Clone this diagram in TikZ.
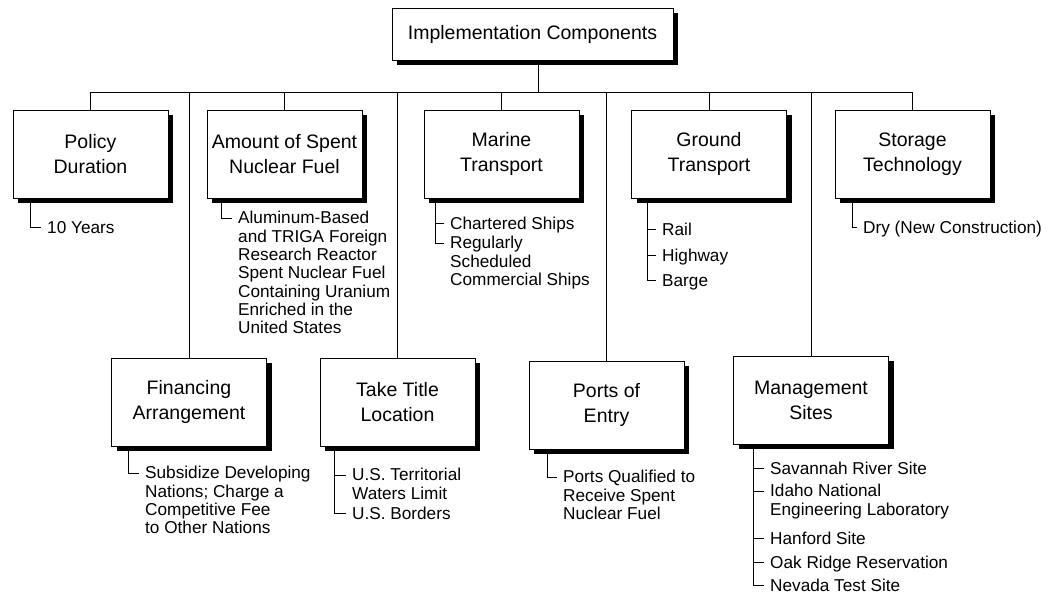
\documentclass[tikz,border=0pt]{standalone}
\usepackage{fontspec}
\setmainfont{Liberation Sans}
\usetikzlibrary{shadows}
\begin{document}
\begin{tikzpicture}[x=1pt,y=-1pt,
  comp/.style={draw=black, line width=0.9pt, fill=white,
    minimum width=155pt, minimum height=88pt, align=center, inner sep=2pt,
    font=\fontsize{19.5}{25}\selectfont,
    drop shadow={shadow xshift=5pt, shadow yshift=-5pt, opacity=1, fill=black}},
  item/.style={anchor=north west, yshift=12.8pt, align=left, inner xsep=6pt, inner ysep=0pt,
    font=\fontsize{17.2}{18.3}\selectfont, execute at begin node=\strut},
  wire/.style={draw=black, line width=0.8pt}]
\useasboundingbox (0,0) rectangle (1058,604);

% root
\node[comp, minimum width=281pt, minimum height=52pt] (ic) at (532.5,34) {Implementation Components};

% first row of components
\node[comp] (pd) at (90.5,154) {Policy\\Duration};
\node[comp] (am) at (284.5,154) {Amount of Spent\\Nuclear Fuel};
\node[comp] (mt) at (501.5,154) {Marine\\Transport};
\node[comp] (gt) at (709,154) {Ground\\Transport};
\node[comp] (st) at (912.5,154) {Storage\\Technology};

% second row of components
\node[comp] (fa) at (189,402) {Financing\\Arrangement};
\node[comp] (tt) at (397.5,402) {Take Title\\Location};
\node[comp] (pe) at (606.5,405) {Ports of\\Entry};
\node[comp] (ms) at (811,400) {Management\\Sites};

% tree connectors
\coordinate (bus) at (0,92);
\draw[wire] ([xshift=6pt]ic.south) -- ([xshift=6pt]ic.south |- bus);
\draw[wire] (pd.north) |- (bus -| st.north) -- (st.north);
\foreach \n in {am,mt,gt} \draw[wire] (\n.north) -- (\n.north |- bus);
\foreach \n in {fa,tt,pe,ms} \draw[wire] (\n.north) -- (\n.north |- bus);

% option lists (each placed by the baseline of its first line)
\node[item] (pd1) at (41,233) {10 Years};
\node[item] (am1) at (232,224) {Aluminum-Based\\and TRIGA Foreign\\Research Reactor\\Spent Nuclear Fuel\\Containing Uranium\\Enriched in the\\United States};
\node[item] (mt1) at (444,229) {Chartered Ships};
\node[item] (mt2) at (444,249) {Regularly\\Scheduled\\Commercial Ships};
\node[item] (gt1) at (656,235) {Rail};
\node[item] (gt2) at (656,261) {Highway};
\node[item] (gt3) at (656,286) {Barge};
\node[item] (st1) at (857,233) {Dry (New Construction)};
\node[item] (fa1) at (139,479) {Subsidize Developing\\Nations; Charge a\\Competitive Fee\\to Other Nations};
\node[item] (tt1) at (346,481) {U.S. Territorial\\Waters Limit};
\node[item] (tt2) at (346,519) {U.S. Borders};
\node[item] (pe1) at (557,483) {Ports Qualified to\\Receive Spent\\Nuclear Fuel};
\node[item] (ms1) at (764,474) {Savannah River Site};
\node[item] (ms2) at (764,497) {Idaho National\\Engineering Laboratory};
\node[item] (ms3) at (764,544) {Hanford Site};
\node[item] (ms4) at (764,568) {Oak Ridge Reservation};
\node[item] (ms5) at (764,591) {Nevada Test Site};

% list brackets: a spine under each box and a tick to every entry
\foreach \b/\dx/\last in {pd/18/pd1, am/15/am1, mt/12/mt2, gt/16/gt3, st/18/st1,
                          fa/17/fa1, tt/15/tt2, pe/19/pe1, ms/20/ms5}{
  \coordinate (\b S) at ([xshift=\dx pt]\b.south west);
  \draw[wire] (\b S) |- ([yshift=-6.8pt]\last.north west);
}
\foreach \i/\b in {mt1/mt, gt1/gt, gt2/gt, tt1/tt, ms1/ms, ms2/ms, ms3/ms, ms4/ms}{
  \coordinate (\i T) at ([yshift=-6.8pt]\i.north west);
  \draw[wire] (\i T) -- (\i T -| \b S);
}
\end{tikzpicture}
\end{document}
